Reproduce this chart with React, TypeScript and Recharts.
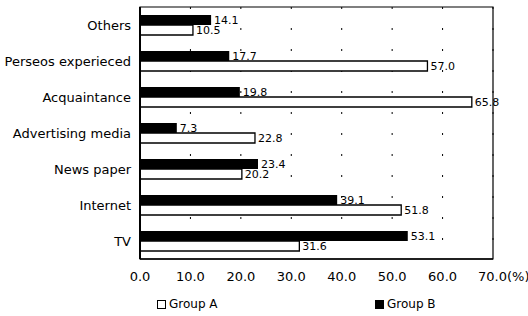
import { BarChart, Bar, XAxis, YAxis, CartesianGrid, Legend, LabelList, ReferenceArea } from 'recharts'

const categories = ['Others', 'Perseos experieced', 'Acquaintance', 'Advertising media', 'News paper', 'Internet', 'TV']
const groupA = [10.5, 57.0, 65.8, 22.8, 20.2, 51.8, 31.6]
const groupB = [14.1, 17.7, 19.8, 7.3, 23.4, 39.1, 53.1]
const xTicks = [0, 10, 20, 30, 40, 50, 60, 70]

const data = categories.map((name, i) => ({ name, a: groupA[i], b: groupB[i] }))

const font = '"DejaVu Sans", sans-serif'

function XTick({ x, y, payload }: any) {
  const v: number = payload.value
  const label = v.toFixed(1)
  if (v === 70) {
    return (
      <text x={x - 15} y={y} dy="0.71em" textAnchor="start" fontSize={13} fontFamily={font} fill="#000">
        {label}(%)
      </text>
    )
  }
  return (
    <text x={x} y={y} dy="0.71em" textAnchor="middle" fontSize={13} fontFamily={font} fill="#000">
      {label}
    </text>
  )
}

function LegendBox() {
  const item = (left: number, filled: boolean, text: string) => (
    <div style={{ position: 'absolute', left, top: 8, display: 'flex', alignItems: 'center' }}>
      <span
        style={{
          display: 'inline-block',
          width: 7,
          height: 7,
          border: '1.5px solid #000',
          background: filled ? '#000' : '#fff',
          marginRight: 3,
        }}
      />
      <span style={{ fontSize: 12, fontFamily: font, color: '#000', lineHeight: '14px' }}>{text}</span>
    </div>
  )
  return (
    <div style={{ position: 'relative', height: 24 }}>
      {item(157, false, 'Group A')}
      {item(375, true, 'Group B')}
    </div>
  )
}

export default function App() {
  return (
    <div style={{ position: 'absolute', left: 0, top: 0, width: 528, height: 316, background: '#fff' }}>
      <BarChart
        width={528}
        height={316}
        data={data}
        layout="vertical"
        margin={{ top: 7, right: 35, left: 0, bottom: 3 }}
        barGap={0}
        barSize={10}
      >
        <CartesianGrid horizontal={false} stroke="#000" strokeDasharray="2 19" />
        <XAxis
          type="number"
          domain={[0, 70]}
          ticks={xTicks}
          height={30}
          tickLine={false}
          tickSize={0}
          tickMargin={13}
          axisLine={{ stroke: '#000', strokeWidth: 1.5 }}
          tick={<XTick />}
        />
        <YAxis
          type="category"
          dataKey="name"
          width={140}
          tickLine={false}
          tickSize={0}
          tickMargin={9}
          axisLine={{ stroke: '#000', strokeWidth: 2 }}
          tick={{ fontSize: 13, fontFamily: font, fill: '#000' }}
        />
        <ReferenceArea x1={0} x2={70} fill="none" stroke="#000" strokeWidth={1.2} ifOverflow="visible" />
        <Legend verticalAlign="bottom" content={<LegendBox />} />
        <Bar dataKey="b" name="Group B" fill="#000" isAnimationActive={false}>
          <LabelList
            dataKey="b"
            position="right"
            offset={3}
            formatter={(v: any) => Number(v).toFixed(1)}
            style={{ fontSize: 11, fontFamily: font, fill: '#000' }}
          />
        </Bar>
        <Bar dataKey="a" name="Group A" fill="#fff" stroke="#000" strokeWidth={1.3} isAnimationActive={false}>
          <LabelList
            dataKey="a"
            position="right"
            offset={3}
            formatter={(v: any) => Number(v).toFixed(1)}
            style={{ fontSize: 11, fontFamily: font, fill: '#000' }}
          />
        </Bar>
      </BarChart>
    </div>
  )
}
